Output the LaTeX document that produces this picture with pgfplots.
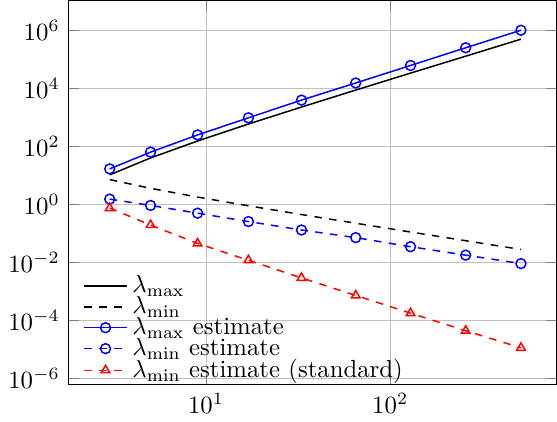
\documentclass[border=0pt]{standalone}
\usepackage{pgfplots}
\pgfplotsset{compat=1.18}

\begin{document}
\begin{tikzpicture}
\begin{loglogaxis}[
    scale only axis,
    width=197pt,
    height=155pt,
    xmin=1.79, xmax=800,
    ymin=6e-7, ymax=1.05e7,
    grid=major,
    major grid style={gray!50},
    ytick={1e-6,1e-4,1e-2,1,1e2,1e4,1e6},
    xtick={10,100},
    xminorticks=false,
    yminorticks=false,
    every axis plot/.append style={semithick},
    legend cell align={left},
    legend style={at={(0.015,-0.006)}, anchor=south west,
        draw=none, fill=none, nodes={inner ysep=0pt}},
]
    % lambda_max
    \addplot[black, no markers] coordinates {
        (3,10.2) (5,39) (9,150) (17,578) (33,2220)
        (65,8550) (129,32900) (257,126000) (513,486000)
    };
    \addlegendentry{$\lambda_{\max}$}

    % lambda_min
    \addplot[black, dashed, no markers] coordinates {
        (3,7.0) (5,3.5) (9,1.75) (17,0.875) (33,0.437)
        (65,0.219) (129,0.109) (257,0.0547) (513,0.0273)
    };
    \addlegendentry{$\lambda_{\min}$}

    % lambda_max estimate
    \addplot[blue, mark=o] coordinates {
        (3,16.4) (5,62) (9,243) (17,945) (33,3860)
        (65,15000) (129,60300) (257,246000) (513,990000)
    };
    \addlegendentry{$\lambda_{\max}$ estimate}

    % lambda_min estimate
    \addplot[blue, dashed, mark=o, mark options={solid}] coordinates {
        (3,1.49) (5,0.90) (9,0.487) (17,0.25) (33,0.128)
        (65,0.070) (129,0.034) (257,0.0174) (513,0.0089)
    };
    \addlegendentry{$\lambda_{\min}$ estimate}

    % lambda_min estimate, standard
    \addplot[red, dashed, mark=triangle, mark options={solid}] coordinates {
        (3,0.73) (5,0.19) (9,0.044) (17,0.0116) (33,0.00285)
        (65,7.1e-4) (129,1.74e-4) (257,4.3e-5) (513,1.11e-5)
    };
    \addlegendentry{$\lambda_{\min}$ estimate (standard)}
\end{loglogaxis}
\end{tikzpicture}
\end{document}
